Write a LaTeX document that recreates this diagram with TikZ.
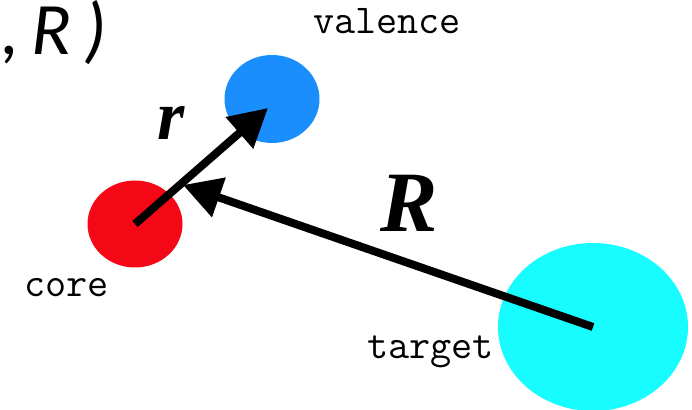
\documentclass[tikz,border=0pt]{standalone}
\usepackage{fontspec}
\setmainfont{Liberation Serif}
\newfontfamily\titlefam{Carlito}
\usetikzlibrary{arrows.meta,shapes.geometric}
\definecolor{corered}{RGB}{245,8,22}
\definecolor{valblue}{RGB}{25,142,252}
\definecolor{tgtcyan}{RGB}{22,252,255}
\tikzset{
  particle/.style={ellipse,draw=none,inner sep=0pt},
  vec/.style={line width=8pt,-{Triangle[length=38pt,width=40pt]}},
  lbl/.style={font=\ttfamily\fontsize{41}{41}\selectfont,inner sep=0pt,anchor=base west},
  vlbl/.style={inner sep=0pt,anchor=base west}
}
\begin{document}
\begin{tikzpicture}[x=1pt,y=1pt]
\useasboundingbox (0,0) rectangle (692,409);
\node[particle,fill=corered,minimum width=95pt,minimum height=87pt] (core) at (135,185) {};
\node[particle,fill=valblue,minimum width=95pt,minimum height=88pt] (valence) at (272,310) {};
\node[particle,fill=tgtcyan,minimum width=190pt,minimum height=168pt] (target) at (593,82) {};
\coordinate (rtip) at (268,301);
\coordinate (Rtip) at (183,224);
\draw[vec] (core.center) -- (rtip);
\draw[vec] (target.center) -- (Rtip);
\node[vlbl,font=\bfseries\itshape\fontsize{70}{70}\selectfont] (rlab) at (157,269) {r};
\node[vlbl,font=\bfseries\itshape\fontsize{86}{86}\selectfont] (Rlab) at (380,177) {R};
\node[lbl] (vallab) at (313,375) {valence};
\node[lbl] (corelab) at (24,112) {core};
\node[lbl] (tgtlab) at (367,50) {target};
\node[inner sep=0pt,anchor=base west,font=\titlefam\itshape\fontsize{74}{74}\selectfont] (title) at (1,354) {,\,R\,)};
\end{tikzpicture}
\end{document}
